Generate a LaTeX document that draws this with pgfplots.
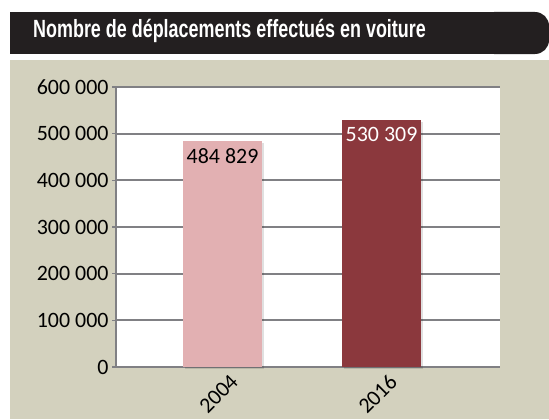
\documentclass[border=0pt]{standalone}
\usepackage{pgfplots}
\pgfplotsset{compat=1.18}
\usepackage{fontspec}
\setmainfont{Carlito}
\newfontfamily\titlefont{Liberation Sans}[FakeStretch=0.72]
\usetikzlibrary{shadows}
\definecolor{beige}{HTML}{D3D1BE}
\definecolor{pinkbar}{HTML}{E2B0B2}
\definecolor{redbar}{HTML}{8B383D}
\definecolor{gridgray}{HTML}{808084}
\definecolor{titleblack}{HTML}{231F20}
\begin{document}
\begin{tikzpicture}[x=1bp,y=1bp]
\path[use as bounding box] (0,0) rectangle (549,419);
\fill[beige] (10,0) rectangle (549,359);
\fill[titleblack] (10,365) rectangle (520,407);
\fill[titleblack, rounded corners=14bp] (480,365) rectangle (549,407);
\node[anchor=base west, inner sep=0pt, text=white, font=\titlefont\bfseries\fontsize{25}{29}\selectfont] at (33,381.5) {Nombre de déplacements effectués en voiture};
\begin{axis}[
  at={(116bp,52bp)}, anchor=south west,
  scale only axis, width=384bp, height=280bp,
  xmin=-0.67, xmax=1.745, ymin=0, ymax=600000,
  scaled y ticks=false,
  axis lines=left,
  axis line style={gridgray, line width=2bp, -},
  axis background/.style={fill=white},
  ymajorgrids, grid style={gridgray, line width=2bp},
  ytick={0,100000,200000,300000,400000,500000,600000},
  yticklabels={0,100 000,200 000,300 000,400 000,500 000,600 000},
  ytick style={gridgray, line width=1.5bp},
  tick align=outside, major tick length=4bp,
  xtick={0,1}, xticklabels={2004,2016},
  xtick style={draw=none},
  ticklabel style={font=\fontsize{22}{25}\selectfont, text=black},
  xticklabel style={xshift=-4bp, yshift=-23bp, rotate=45, anchor=center},
  ybar, bar width=79bp,
  clip=false,
]
\addplot[fill=pinkbar, draw=none, bar shift=0pt,
  drop shadow={shadow xshift=2bp, shadow yshift=-2bp, fill=black, opacity=0.12},
  nodes near coords, point meta=explicit symbolic,
  every node near coord/.style={anchor=north, yshift=-4bp, text=black, font=\fontsize{22}{25}\selectfont}]
  coordinates {(0,484829) [484 829]};
\addplot[fill=redbar, draw=none, bar shift=0pt,
  drop shadow={shadow xshift=2bp, shadow yshift=-2bp, fill=black, opacity=0.12},
  nodes near coords, point meta=explicit symbolic,
  every node near coord/.style={anchor=north, yshift=-4bp, text=white, font=\fontsize{22}{25}\selectfont}]
  coordinates {(1,530309) [530 309]};
\end{axis}
\end{tikzpicture}
\end{document}
